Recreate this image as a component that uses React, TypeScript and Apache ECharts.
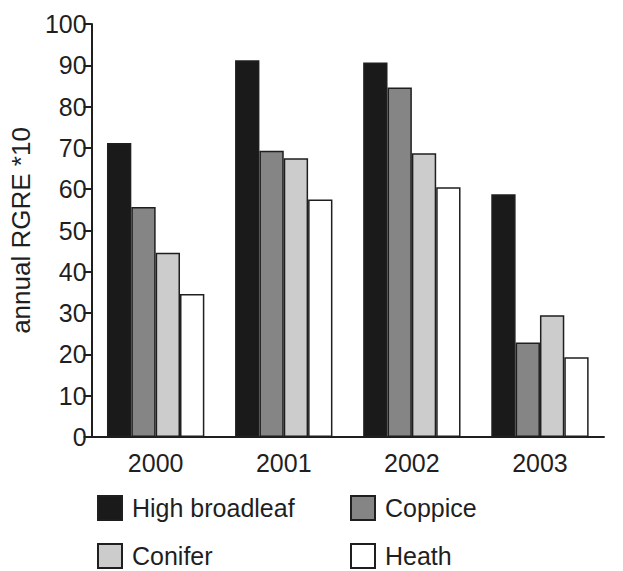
import React, { useEffect, useRef } from "react";
import * as echarts from "echarts";

const years = ["2000", "2001", "2002", "2003"];
const highBroadleaf = [71.2, 91.2, 90.7, 58.8];
const coppice = [55.7, 69.3, 84.6, 22.9];
const conifer = [44.6, 67.5, 68.7, 29.5];
const heath = [34.6, 57.5, 60.5, 19.3];
const seriesNames = ["High broadleaf", "Coppice", "Conifer", "Heath"];
const seriesColors = ["#1a1a1a", "#858585", "#cccccc", "#ffffff"];
const yTicks = { min: 0, max: 100, interval: 10 };

const FONT = "Liberation Sans, Arial, sans-serif";
const INK = "#1f1f1f";
const FS = 25;

export default function App() {
  const ref = useRef<HTMLDivElement>(null);
  useEffect(() => {
    if (!ref.current) return;
    const chart = echarts.init(ref.current, null, { renderer: "svg" });
    const values = [highBroadleaf, coppice, conifer, heath];
    const legendPos = [
      { left: 97, top: 495 },
      { left: 350, top: 495 },
      { left: 97, top: 543 },
      { left: 350, top: 543 },
    ];
    chart.setOption({
      animation: false,
      backgroundColor: "#ffffff",
      textStyle: { fontFamily: FONT },
      grid: { left: 88, right: 19, top: 24, bottom: 134 },
      legend: seriesNames.map((n, i) => ({
        data: [n],
        left: legendPos[i].left,
        top: legendPos[i].top,
        itemWidth: 24,
        itemHeight: 24,
        icon: "rect",
        padding: 0,
        textStyle: { fontSize: FS, color: INK, fontFamily: FONT, padding: [0, 0, 0, 5] },
        selectedMode: false,
      })),
      xAxis: {
        type: "category",
        data: years,
        axisLine: { lineStyle: { color: INK, width: 2 } },
        axisTick: { length: 8, lineStyle: { color: INK, width: 2 } },
        axisLabel: { fontSize: FS, color: INK, margin: 13, fontFamily: FONT },
      },
      yAxis: {
        type: "value",
        min: yTicks.min,
        max: yTicks.max,
        interval: yTicks.interval,
        name: "annual RGRE *10",
        nameLocation: "middle",
        nameGap: 50,
        nameTextStyle: { fontSize: 26, color: INK, fontFamily: FONT },
        axisLine: { show: true, lineStyle: { color: INK, width: 2 } },
        axisTick: { show: true, length: 8, lineStyle: { color: INK, width: 2 } },
        axisLabel: { fontSize: FS, color: INK, margin: 5, fontFamily: FONT },
        splitLine: { show: false },
      },
      series: seriesNames.map((n, i) => ({
        name: n,
        type: "bar",
        data: values[i],
        barGap: "0%",
        barCategoryGap: "24%",
        itemStyle: {
          color: seriesColors[i],
          borderColor: INK,
          borderWidth: 1.5,
        },
      })),
    });
    return () => chart.dispose();
  }, []);
  return <div ref={ref} style={{ width: 623, height: 571, position: "absolute", left: 0, top: 0 }} />;
}
